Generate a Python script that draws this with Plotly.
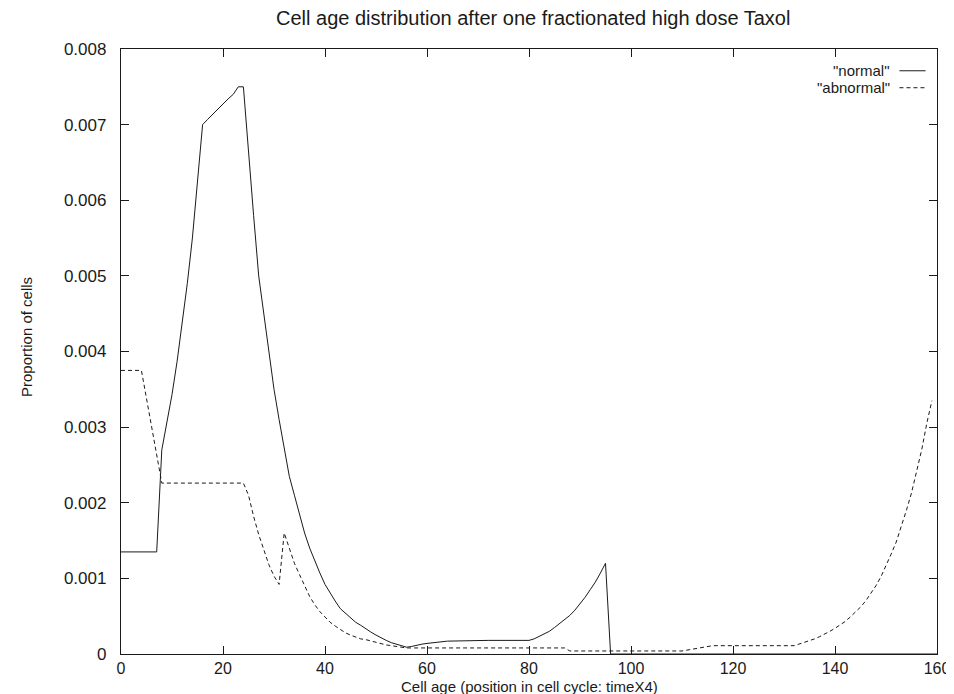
import plotly.graph_objects as go

# ---- data ----
normal_age = [0, 7, 8, 9, 10, 11, 12, 13, 14, 15, 16, 17, 18, 19, 20, 21, 22, 23, 24,
              25, 26, 27, 28, 29, 30, 31, 32, 33, 34, 35, 36, 37, 38, 39, 40,
              41, 42, 43, 44, 45, 46, 47, 48, 49, 50, 51, 52, 53, 54, 55, 56,
              57, 58, 59, 60, 61, 62, 63, 64, 72, 80,
              81, 82, 83, 84, 85, 86, 87, 88, 89, 90, 91, 92, 93, 94, 95, 96, 160]
normal_val = [0.00135, 0.00135, 0.0027, 0.00305, 0.00343, 0.00387, 0.00436, 0.0049, 0.0055, 0.0062,
              0.0070, 0.00707, 0.00714, 0.0072, 0.00727, 0.00734, 0.0074, 0.0075, 0.0075,
              0.0066, 0.0058, 0.0050, 0.0045, 0.0040, 0.0035, 0.0031, 0.0027, 0.00235, 0.0021,
              0.00183, 0.0016, 0.0014, 0.00123, 0.00107, 0.00092,
              0.0008, 0.0007, 0.0006, 0.00054, 0.00048, 0.00042, 0.00038, 0.00033, 0.00029, 0.00025,
              0.00021, 0.00018, 0.00015, 0.00013, 0.00011, 0.00009,
              0.0001, 0.00012, 0.00013, 0.00014, 0.00015, 0.00016, 0.00017, 0.00017, 0.00018, 0.00018,
              0.0002, 0.00023, 0.00027, 0.0003, 0.00035, 0.0004, 0.00045, 0.00051, 0.00058, 0.00066,
              0.00075, 0.00085, 0.00095, 0.00107, 0.0012, 0.0, 0.0]

abnormal_age = [0, 4, 5, 6, 7, 8, 24, 25, 26, 27, 28, 29, 30, 31,
                32, 33, 34, 35, 36, 37, 38, 39, 40, 41, 42, 43, 44, 45, 46, 47, 48, 49, 50,
                51, 52, 53, 54, 55, 56, 87, 88, 110, 111, 112, 113, 114, 115, 116, 132,
                133, 134, 135, 136, 137, 138, 139, 140, 141, 142, 143, 144, 145, 146,
                147, 148, 149, 150, 151, 152, 153, 154, 155, 156, 157, 158, 159]
abnormal_val = [0.00375, 0.00375, 0.00338, 0.00301, 0.00263, 0.00226, 0.00226, 0.0021, 0.00182,
                0.00158, 0.00138, 0.00118, 0.00103, 0.00092,
                0.0016, 0.0014, 0.0012, 0.00105, 0.0009, 0.00076, 0.00065, 0.00056, 0.00049,
                0.00042, 0.00037, 0.00032, 0.00028, 0.00025, 0.00022, 0.0002, 0.00019, 0.00017,
                0.00015, 0.00014, 0.00012, 0.00011, 0.0001, 0.00009, 0.00008, 0.00008, 0.00004,
                0.00004, 0.00005, 0.00006, 0.00008, 0.00009, 0.0001, 0.00011, 0.00011,
                0.00013, 0.00015, 0.00018, 0.0002, 0.00023, 0.00026, 0.0003, 0.00034, 0.00038,
                0.00043, 0.00049, 0.00055, 0.00062, 0.0007, 0.0008, 0.0009, 0.00102, 0.00116,
                0.00132, 0.00148, 0.00168, 0.0019, 0.00213, 0.0024, 0.0027, 0.00305, 0.00335]

x_ticks = [0, 20, 40, 60, 80, 100, 120, 140, 160]
y_ticks = [0, 0.001, 0.002, 0.003, 0.004, 0.005, 0.006, 0.007, 0.008]
y_tick_text = ["0", "0.001", "0.002", "0.003", "0.004", "0.005", "0.006", "0.007", "0.008"]

title_text = "Cell age distribution after one fractionated high dose Taxol"
x_title = "Cell age (position in cell cycle: timeX4)"
y_title = "Proportion of cells"
legend_names = ['"normal"', '"abnormal"']

FONT = "Liberation Sans, Arial, Helvetica, sans-serif"
INK = "#1a1a1a"

fig = go.Figure()
fig.add_trace(go.Scatter(x=normal_age, y=normal_val, mode="lines", name=legend_names[0],
                         line=dict(color=INK, width=1)))
fig.add_trace(go.Scatter(x=abnormal_age, y=abnormal_val, mode="lines", name=legend_names[1],
                         line=dict(color=INK, width=1, dash="4px,3px")))

axis_common = dict(showline=True, linecolor=INK, linewidth=1.3, mirror="ticks",
                   ticks="inside", ticklen=8, tickwidth=1.3, tickcolor=INK,
                   showgrid=False, zeroline=False)

fig.update_layout(
    width=954, height=694,
    margin=dict(l=113, r=15, t=41, b=48),
    paper_bgcolor="white", plot_bgcolor="white",
    showlegend=False,
    xaxis=dict(range=[0, 160], tickvals=x_ticks, ticklabelstandoff=0,
               tickfont=dict(family=FONT, size=16, color=INK), **axis_common),
    yaxis=dict(range=[0, 0.008], tickvals=y_ticks, ticktext=y_tick_text,
               ticklabelstandoff=10, tickfont=dict(family=FONT, size=17, color=INK),
               **axis_common),
    font=dict(family=FONT, color=INK),
)

# title and axis titles
fig.add_annotation(text=title_text, xref="paper", yref="paper", x=0.505, y=1,
                   xanchor="center", yanchor="middle", yshift=31, showarrow=False,
                   font=dict(family=FONT, size=20, color=INK))
fig.add_annotation(text=x_title, xref="paper", yref="paper", x=0.5, y=0,
                   xanchor="center", yanchor="middle", yshift=-32, showarrow=False,
                   font=dict(family=FONT, size=15, color=INK))
fig.add_annotation(text=y_title, xref="paper", yref="paper", x=0, y=0.524,
                   xanchor="center", yanchor="middle", xshift=-94, textangle=-90, showarrow=False,
                   font=dict(family=FONT, size=15, color=INK))

# gnuplot-style key: text then sample line
key_rows = [(0.964, "solid"), (0.936, "4px,3px")]
for name, (ky, dash) in zip(legend_names, key_rows):
    fig.add_annotation(text=name, xref="paper", yref="paper", x=0.945, y=ky,
                       xanchor="right", yanchor="middle", showarrow=False,
                       font=dict(family=FONT, size=15, color=INK))
    fig.add_shape(type="line", xref="paper", yref="paper", x0=0.954, x1=0.986, y0=ky, y1=ky,
                  line=dict(color=INK, width=1, dash=dash))

fig.write_html("out.html")
